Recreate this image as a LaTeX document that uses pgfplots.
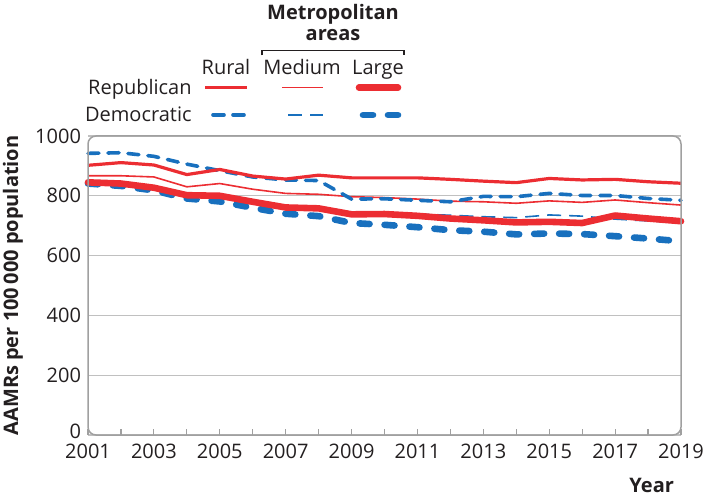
\documentclass[border=0pt]{standalone}
\usepackage{fontspec}
\setmainfont{Open Sans}
\usepackage{pgfplots}
\usepackage{pgfplotstable}
\pgfplotsset{compat=1.18}
\definecolor{rred}{RGB}{236,45,50}
\definecolor{dblue}{RGB}{24,112,190}
\definecolor{txt}{RGB}{35,31,32}
\definecolor{gridc}{RGB}{192,192,192}
\definecolor{framec}{RGB}{160,160,160}

\pgfplotstableread{
year RR RM RL DR DM DL
2001 902 867 845 942 846 841
2002 911 867 841 944 842 833
2003 903 863 827 932 828 818
2004 871 830 802 906 802 791
2005 888 841 800 884 799 781
2006 866 822 780 863 779 760
2007 856 808 761 853 761 740
2008 869 805 758 851 757 732
2009 860 797 738 789 738 709
2010 860 794 739 790 739 703
2011 860 789 733 785 739 695
2012 855 782 724 780 735 685
2013 849 780 718 798 730 680
2014 844 775 711 797 727 671
2015 858 783 713 808 736 674
2016 853 778 709 801 732 672
2017 855 786 734 801 722 665
2018 847 777 724 791 716 657
2019 842 769 715 785 710 648
}\data

\tikzset{
  rrural/.style={rred, line width=1.6pt, line join=round},
  rmed/.style={rred, line width=0.8pt, line join=round},
  rlarge/.style={rred, line width=3.3pt, line join=round, line cap=round},
  drural/.style={dblue, line width=1.8pt, line cap=round, line join=round, dash pattern=on 5.5pt off 4.5pt},
  dmed/.style={dblue, line width=0.8pt, dash pattern=on 7pt off 4pt},
  dlarge/.style={dblue, line width=3.3pt, line cap=round, line join=round, dash pattern=on 5pt off 7.5pt},
}

\begin{document}
\begin{tikzpicture}
\useasboundingbox (0,0) rectangle (352pt,-248pt);
\begin{axis}[
  at={(44pt,-68pt)}, anchor=north west,
  scale only axis, width=296.5pt, height=149.5pt,
  xmin=2001, xmax=2019, ymin=0, ymax=1000,
  xtick={2001,2003,...,2019},
  minor xtick={2002,2004,...,2018},
  ytick={0,200,...,1000},
  yticklabels={\raisebox{3.5pt}{0},200,400,600,800,1000},
  ymajorgrids, grid style={color=gridc, line width=0.6pt},
  axis line style={draw=none},
  tick align=inside, xtick pos=lower,
  major tick length=3pt, minor tick length=3pt,
  y tick style={draw=none},
  x tick style={color=framec, line width=0.6pt},
  /pgf/number format/assume math mode=true,
  /pgf/number format/set thousands separator={},
  tick label style={font=\fontsize{10}{12}\selectfont, text=txt},
  xticklabel style={yshift=-1pt},
  ylabel={AAMRs per 100\,000 population},
  every axis y label/.style={at={(rel axis cs:0,0.5)}, xshift=-37.5pt, rotate=90, anchor=center, font=\bfseries\fontsize{10}{12}\selectfont, text=txt},
  xlabel={Year},
  every axis x label/.style={at={(rel axis cs:1,0)}, anchor=east, yshift=-25pt, font=\bfseries\fontsize{10}{12}\selectfont, text=txt},
  clip=false,
  after end axis/.code={
    \draw[framec, line width=0.75pt, rounded corners=4pt] (rel axis cs:0,0) rectangle (rel axis cs:1,1);
  },
]
\addplot[dlarge] table[x=year, y=DL] {\data};
\addplot[dmed] table[x=year, y=DM] {\data};
\addplot[rlarge] table[x=year, y=RL] {\data};
\addplot[rmed] table[x=year, y=RM] {\data};
\addplot[drural] table[x=year, y=DR] {\data};
\addplot[rrural] table[x=year, y=RR] {\data};
\end{axis}
\begin{scope}[x=0.5pt, y=-0.5pt]
  \node[anchor=base, font=\bfseries\fontsize{10}{12}\selectfont, text=txt, inner sep=0pt] at (333,19.5) {Metropolitan};
  \node[anchor=base, font=\bfseries\fontsize{10}{12}\selectfont, text=txt, inner sep=0pt] at (333,40.5) {areas};
  \draw[txt, line width=0.6pt] (262,55.5) -- (262,50.5) -- (404,50.5) -- (404,55.5);
  \node[anchor=base, font=\fontsize{10}{12}\selectfont, text=txt, inner sep=0pt] at (226,75) {Rural};
  \node[anchor=base, font=\fontsize{10}{12}\selectfont, text=txt, inner sep=0pt] at (302,75) {Medium};
  \node[anchor=base, font=\fontsize{10}{12}\selectfont, text=txt, inner sep=0pt] at (378,75) {Large};
  \node[anchor=base east, font=\fontsize{10}{12}\selectfont, text=txt, inner sep=0pt] at (192,95) {Republican};
  \node[anchor=base east, font=\fontsize{10}{12}\selectfont, text=txt, inner sep=0pt] at (192,121.5) {Democratic};
  \draw[rrural] (205,87.7) -- (247,87.7);
  \draw[rmed] (282,87.7) -- (323,87.7);
  \draw[rlarge] (359,87.7) -- (398,87.7);
  \draw[drural] (213,115) -- (247,115);
  \draw[dmed] (288,115) -- (323,115);
  \draw[dlarge] (363,115) -- (400,115);
\end{scope}
\end{tikzpicture}
\end{document}
